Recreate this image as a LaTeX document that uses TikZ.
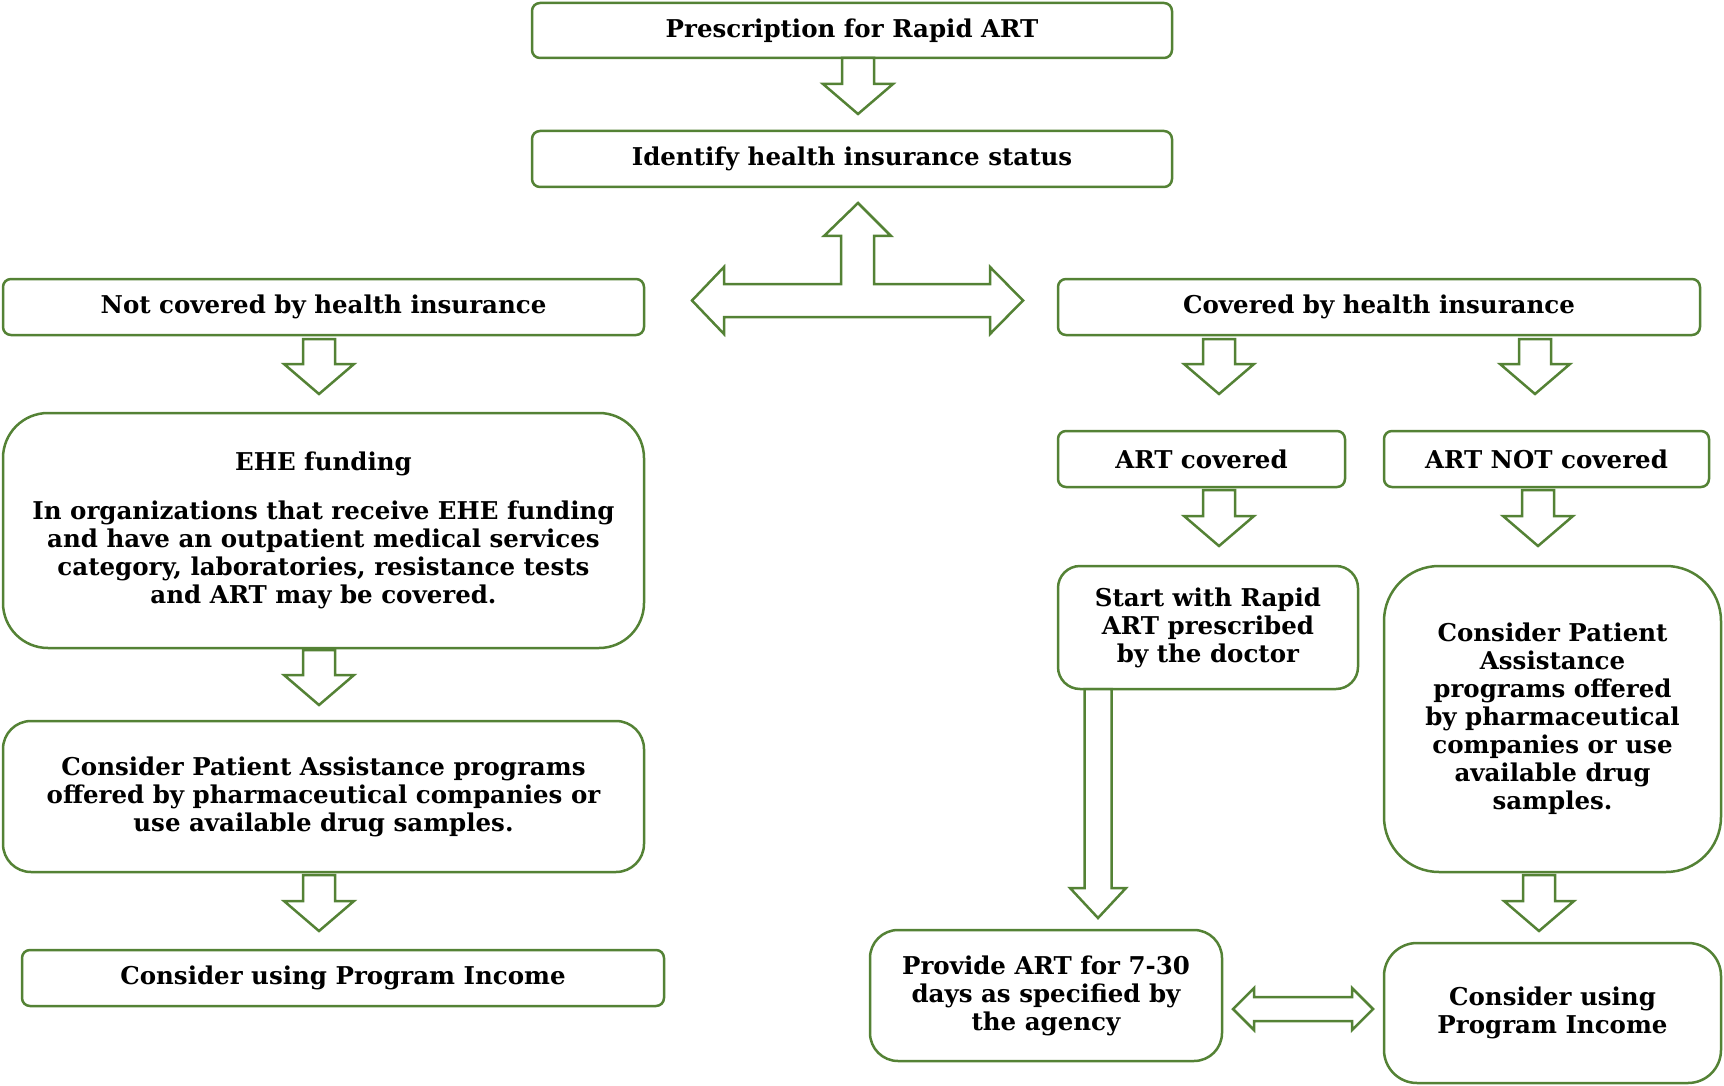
\documentclass[tikz,border=0pt]{standalone}
\usepackage{fontspec}
\setmainfont{DejaVu Serif}
\definecolor{grn}{HTML}{548235}
\tikzset{
  box/.style={draw=grn, line width=2.5pt, rounded corners=8pt, align=center,
    font=\bfseries\fontsize{24.5}{28}\selectfont, inner sep=0pt, fill=white},
  blk/.style={draw=grn, line width=2.5pt, fill=white, line join=miter},
}
% down block arrow: x, ytop, ybottom
\newcommand\dnarrow[3]{%
  \draw[blk] (#1-16,#2) -- (#1+16,#2) -- (#1+16,#3-30) -- (#1+35,#3-30) -- (#1,#3)
    -- (#1-35,#3-30) -- (#1-16,#3-30) -- cycle;}
\begin{document}
\begin{tikzpicture}[x=1pt,y=-1pt]
\useasboundingbox (0,0) rectangle (1724,1086);

% boxes
\node[box, minimum width=640pt, minimum height=55pt] (pres) at (852,30.5) {Prescription for Rapid ART};
\node[box, minimum width=640pt, minimum height=56pt] (ident) at (852,159) {Identify health insurance status};
\node[box, minimum width=641pt, minimum height=56pt] (notcov) at (323.5,307) {Not covered by health insurance};
\node[box, minimum width=642pt, minimum height=56pt] (cov) at (1379,307) {Covered by health insurance};
\node[box, minimum width=641pt, minimum height=235pt, rounded corners=45pt] (ehe) at (323.5,530.5)
  {EHE funding\\[21pt] In organizations that receive EHE funding\\ and have an outpatient medical services\\ category, laboratories, resistance tests\\ and ART may be covered.};
\node[box, minimum width=287pt, minimum height=56pt] (artcov) at (1201.5,459) {ART covered};
\node[box, minimum width=325pt, minimum height=56pt] (artnot) at (1546.5,459) {ART NOT covered};
\node[box, minimum width=300pt, minimum height=123pt, rounded corners=22pt] (start) at (1208,627.5)
  {Start with Rapid\\ ART prescribed\\ by the doctor};
\node[box, minimum width=337pt, minimum height=306pt, rounded corners=55pt] (cpaR) at (1552.5,719)
  {Consider Patient\\ Assistance\\ programs offered\\ by pharmaceutical\\ companies or use\\ available drug\\ samples.};
\node[box, minimum width=641pt, minimum height=151pt, rounded corners=28pt] (cpaL) at (323.5,796.5)
  {Consider Patient Assistance programs\\ offered by pharmaceutical companies or\\ use available drug samples.};
\node[box, minimum width=642pt, minimum height=56pt] (cupL) at (343,978) {Consider using Program Income};
\node[box, minimum width=352pt, minimum height=131pt, rounded corners=28pt] (prov) at (1046,995.5)
  {Provide ART for 7-30\\ days as specified by\\ the agency};
\node[box, minimum width=337pt, minimum height=140pt, rounded corners=33pt] (cupR) at (1552.5,1013)
  {Consider using\\ Program Income};

% down arrows
\dnarrow{858}{58}{114}
\dnarrow{319}{339}{394}
\dnarrow{1219}{339}{394}
\dnarrow{1535}{339}{394}
\dnarrow{1219}{490}{546}
\dnarrow{1538}{490}{546}
\dnarrow{319}{650}{705}
\dnarrow{319}{875}{931}
\dnarrow{1539}{875}{931}

% long arrow from start to provide
\draw[blk] (1084.5,689) -- (1111.5,689) -- (1111.5,888) -- (1126,888) -- (1098,918)
  -- (1070,888) -- (1084.5,888) -- cycle;

% T-shaped three-way arrow
\draw[blk] (858,203) -- (891,236) -- (874,236) -- (874,284) -- (990,284) -- (990,267)
  -- (1023,300.5) -- (990,334) -- (990,317) -- (724,317) -- (724,334) -- (692,300.5)
  -- (724,267) -- (724,284) -- (841,284) -- (841,236) -- (824,236) -- cycle;

% double arrow between provide and program income
\draw[blk] (1233,1009) -- (1254,988) -- (1254,997) -- (1352,997) -- (1352,988)
  -- (1373,1009) -- (1352,1030) -- (1352,1021) -- (1254,1021) -- (1254,1030) -- cycle;
\end{tikzpicture}
\end{document}
